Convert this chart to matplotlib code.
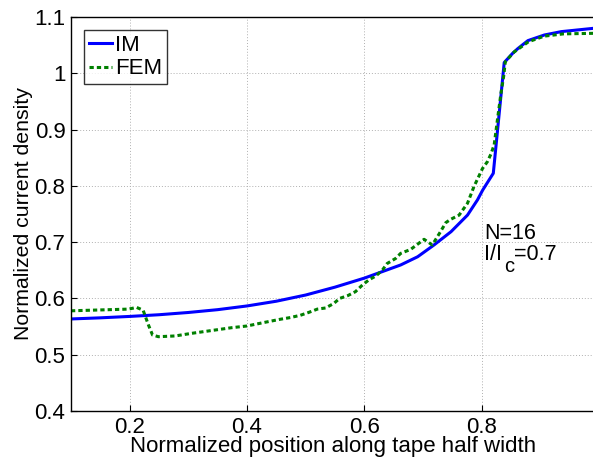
import matplotlib
matplotlib.use("Agg")
import matplotlib.pyplot as plt
from matplotlib.transforms import offset_copy

plt.rcParams['font.family'] = ['Liberation Sans', 'DejaVu Sans']

im_x = [0.100, 0.150, 0.200, 0.250, 0.300, 0.350, 0.400, 0.450, 0.500, 0.550, 0.600,
        0.662, 0.691, 0.719, 0.748, 0.776, 0.793, 0.802, 0.820, 0.8386, 0.853, 0.862,
        0.879, 0.907, 0.936, 0.992]
im_y = [0.5635, 0.5655, 0.5680, 0.5710, 0.5750, 0.5800, 0.5866, 0.5950, 0.6060, 0.6200,
        0.6360, 0.6594, 0.6740, 0.6950, 0.7186, 0.7480, 0.7750, 0.7926, 0.8223, 1.0190,
        1.0355, 1.0440, 1.0580, 1.0680, 1.0740, 1.0800]

fem_x = [0.100, 0.198, 0.212, 0.223, 0.232, 0.239, 0.249, 0.2775, 0.306, 0.340, 0.374,
         0.400, 0.428, 0.457, 0.474, 0.491, 0.505, 0.520, 0.534, 0.548, 0.558, 0.572,
         0.585, 0.597, 0.608, 0.620, 0.631, 0.639, 0.6535, 0.662, 0.679, 0.702, 0.716,
         0.730, 0.739, 0.7475, 0.7617, 0.776, 0.787, 0.8017, 0.810, 0.816, 0.8215,
         0.827, 0.833, 0.8376, 0.8405, 0.8557, 0.880, 0.907, 0.940, 0.992]
fem_y = [0.578, 0.581, 0.584, 0.579, 0.553, 0.535, 0.532, 0.5333, 0.538, 0.543, 0.548,
         0.551, 0.557, 0.563, 0.566, 0.570, 0.575, 0.581, 0.583, 0.591, 0.600, 0.605,
         0.612, 0.624, 0.633, 0.640, 0.6505, 0.662, 0.671, 0.680, 0.687, 0.705, 0.695,
         0.7186, 0.7346, 0.7406, 0.748, 0.769, 0.7986, 0.831, 0.843, 0.8566, 0.873,
         0.917, 0.964, 0.994, 1.0206, 1.038, 1.056, 1.066, 1.070, 1.071]

xticks = [0.2, 0.4, 0.6, 0.8]
yticks = [0.4, 0.5, 0.6, 0.7, 0.8, 0.9, 1.0, 1.1]
ytick_labels = ['0.4', '0.5', '0.6', '0.7', '0.8', '0.9', '1', '1.1']

fig = plt.figure(figsize=(5.93, 4.59), dpi=100)
ax = fig.add_axes([0.1197, 0.1046, 0.8803 + 0.002, 0.8584])

ax.plot(im_x, im_y, color=(0, 0, 1), lw=2.2, label='IM')
ax.plot(fem_x, fem_y, color=(0, 0.5, 0), lw=2.2, linestyle=(0, (1.4, 1.0)), label='FEM')

ax.set_xlim(0.1, 0.992)
ax.set_ylim(0.4, 1.1)
ax.set_xticks(xticks)
ax.set_yticks(yticks)
ax.set_yticklabels(ytick_labels)
ax.tick_params(direction='in', labelsize=16, length=4, width=0.8, pad=4)
ax.grid(True, linestyle=(0, (1, 2)), color='#b0b0b0', lw=0.7)
for s in ax.spines.values():
    s.set_linewidth(1.0)

ax.set_xlabel('Normalized position along tape half width', fontsize=16, labelpad=-1)
ax.set_ylabel('Normalized current density', fontsize=15.3, labelpad=1)

leg = ax.legend(loc='upper left', fontsize=16, frameon=True, fancybox=False,
                edgecolor='black', handlelength=1.05, handletextpad=0.15,
                borderpad=0.2, labelspacing=0.12, borderaxespad=0.6)
leg.get_frame().set_linewidth(1.0)

fs = 15.5
ax.text(0.8045, 0.705, 'N=16', fontsize=fs)
t1 = ax.text(0.8045, 0.668, 'I/I', fontsize=fs)
fig.canvas.draw()
r = fig.canvas.get_renderer()
bb = t1.get_window_extent(r)
tr_c = offset_copy(ax.transData, fig=fig, x=bb.width + 1.5, y=-11.5, units='dots')
tc = ax.text(0.8045, 0.668, 'c', fontsize=fs - 1, transform=tr_c)
bbc = tc.get_window_extent(r)
tr_e = offset_copy(ax.transData, fig=fig, x=bb.width + 1.5 + bbc.width, y=0, units='dots')
ax.text(0.8045, 0.668, '=0.7', fontsize=fs, transform=tr_e)

fig.savefig('out.png', dpi=100)
